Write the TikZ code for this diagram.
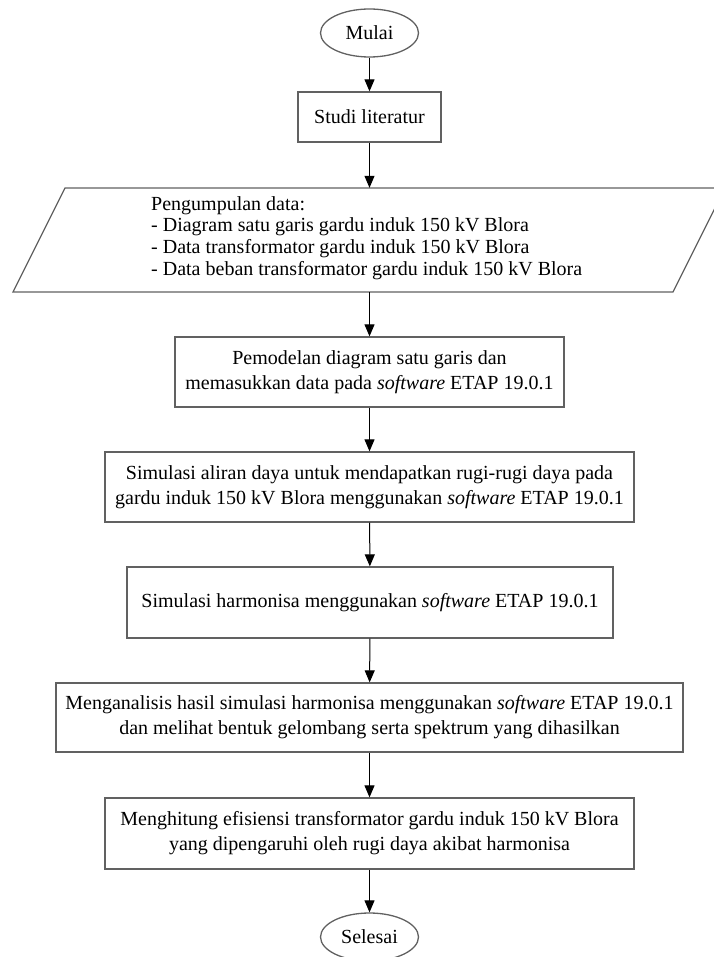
\documentclass[tikz,border=0pt]{standalone}
\usepackage{fontspec}
\setmainfont{Liberation Serif}
\usetikzlibrary{arrows.meta,shapes.geometric}
\tikzset{
  box/.style={draw=black!62, line width=1.3pt, fill=white, inner sep=0pt, align=center,
    font=\fontsize{20}{25}\selectfont},
  term/.style={ellipse, draw=black!62, line width=1.3pt, inner sep=0pt,
    minimum width=98pt, minimum height=48pt, font=\fontsize{20}{24}\selectfont},
  flow/.style={draw=black, line width=1pt, -{Triangle[length=12pt,width=10pt]}},
}
\begin{document}
\begin{tikzpicture}[x=1pt,y=-1pt]
\useasboundingbox (0,0) rectangle (713,957);
\node[term] (mulai) at (369.5,33) {Mulai};
\node[box, minimum width=143pt, minimum height=50pt] (studi) at (369.5,117) {Studi literatur};
% parallelogram
\draw[draw=black!62, line width=1.3pt] (13,292) -- (65,188) -- (725,188) -- (673,292) -- cycle;
\node[inner sep=0pt, minimum width=600pt, minimum height=104pt] (data) at (369.5,240) {};
\node[inner sep=0pt, anchor=west, align=left, font=\fontsize{20}{21.8}\selectfont] (datatext) at (151,238)
  {Pengumpulan data:\\- Diagram satu garis gardu induk 150 kV Blora\\- Data transformator gardu induk 150 kV Blora\\- Data beban transformator gardu induk 150 kV Blora};
\node[box, minimum width=389pt, minimum height=70pt] (model) at (369.5,372)
  {Pemodelan diagram satu garis dan\\memasukkan data pada \textit{software} ETAP 19.0.1};
\node[box, minimum width=529pt, minimum height=70pt] (aliran) at (369.5,487)
  {Simulasi aliran daya untuk mendapatkan rugi-rugi daya pada\\gardu induk 150 kV Blora menggunakan \textit{software} ETAP 19.0.1};
\node[box, minimum width=486pt, minimum height=71pt] (harm) at (370,602.5)
  {Simulasi harmonisa menggunakan \textit{software} ETAP 19.0.1};
\node[box, minimum width=627pt, minimum height=69pt] (analisis) at (369.5,717.5)
  {Menganalisis hasil simulasi harmonisa menggunakan \textit{software} ETAP 19.0.1\\dan melihat bentuk gelombang serta spektrum yang dihasilkan};
\node[box, minimum width=529pt, minimum height=71pt] (hitung) at (369.5,833.5)
  {Menghitung efisiensi transformator gardu induk 150 kV Blora\\yang dipengaruhi oleh rugi daya akibat harmonisa};
\node[term] (selesai) at (369.5,937) {Selesai};
\draw[flow] (mulai) -- (studi);
\draw[flow] (studi) -- (data);
\draw[flow] (data) -- (model);
\draw[flow] (model) -- (aliran);
\draw[flow] (aliran) -- (harm);
\draw[flow] (harm) -- (analisis);
\draw[flow] (analisis) -- (hitung);
\draw[flow] (hitung) -- (selesai);
\end{tikzpicture}
\end{document}
